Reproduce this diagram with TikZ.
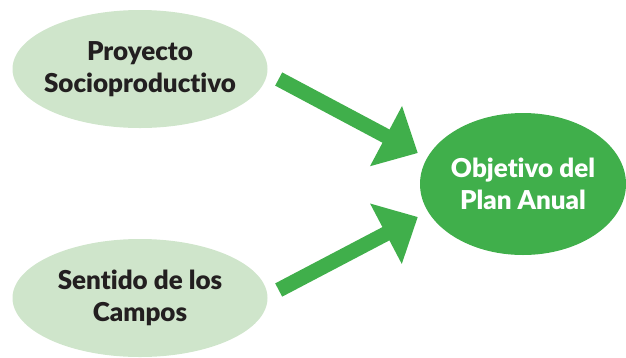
\documentclass[tikz,border=0pt]{standalone}
\usepackage{fontspec}
\setmainfont{Lato}[Ligatures=NoCommon, BoldFont={Lato Black}]
\usepackage{xcolor}
\usetikzlibrary{positioning,arrows.meta,shapes.geometric,calc}

\definecolor{lightleaf}{HTML}{CFE5CB}
\definecolor{leaf}{HTML}{40AF4B}
\definecolor{ink}{HTML}{231F20}

\begin{document}
\begin{tikzpicture}[
        x=1pt, y=-1pt,
        field/.style={ellipse, fill=lightleaf, minimum width=255pt, minimum height=118pt,
                      inner sep=-20pt, align=center, text=ink,
                      font=\fontsize{26}{32}\selectfont\bfseries},
        goal/.style={field, fill=leaf, text=white, minimum width=206pt, minimum height=142pt},
        arrow/.style={-{Triangle[length=36pt,width=66pt]}, line width=15pt, leaf},
    ]
        \useasboundingbox (0,0) rectangle (626,357);
        \node[field] (proj)  at (140,69)  {Proyecto\\Socioproductivo};
        \node[field] (camp)  at (140,298) {Sentido de los\\Campos};
        \node[goal]  (plan)  at (523,184) {Objetivo del\\Plan Anual};

        \draw[arrow] ($(proj.east)+(11,10)$) -- ($(plan.west)+(-2,-31)$);
        \draw[arrow] ($(camp.east)+(11,-8)$) -- ($(plan.west)+(-2,33)$);
    \end{tikzpicture}
\end{document}
